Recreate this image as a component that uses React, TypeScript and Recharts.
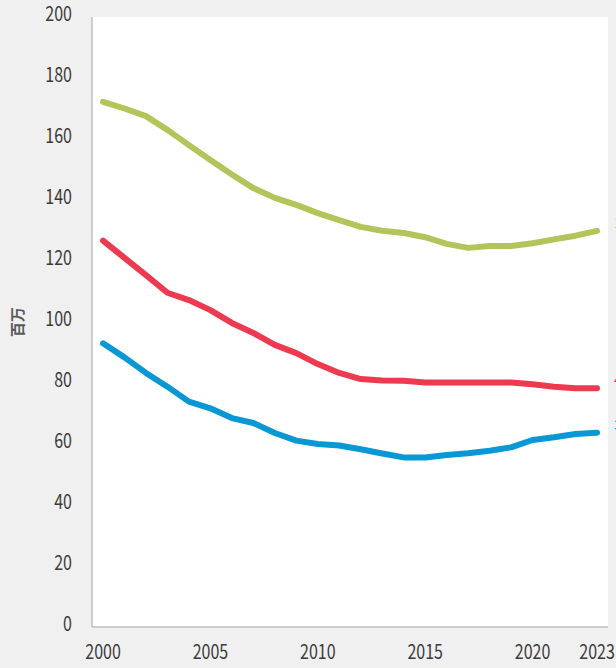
import { LineChart, Line, XAxis, YAxis, CartesianGrid, LabelList } from 'recharts';

const years = [
  2000, 2001, 2002, 2003, 2004, 2005, 2006, 2007, 2008, 2009, 2010, 2011,
  2012, 2013, 2014, 2015, 2016, 2017, 2018, 2019, 2020, 2021, 2022, 2023,
];

const greenSeries = [
  172.2, 170.0, 167.5, 163.0, 158.0, 153.1, 148.4, 143.9, 140.7, 138.4, 135.7, 133.4,
  131.2, 129.9, 129.2, 127.8, 125.6, 124.3, 124.9, 124.9, 125.8, 127.1, 128.3, 129.9,
];

const redSeries = [
  126.7, 121.0, 115.4, 109.6, 107.2, 103.9, 99.7, 96.4, 92.5, 89.8, 86.2, 83.3,
  81.3, 80.8, 80.7, 80.2, 80.2, 80.2, 80.2, 80.2, 79.6, 78.8, 78.3, 78.3,
];

const blueSeries = [
  93.0, 88.4, 83.3, 78.8, 73.9, 71.7, 68.5, 66.9, 63.6, 61.1, 60.0, 59.5,
  58.3, 56.9, 55.6, 55.6, 56.4, 57.0, 57.8, 58.9, 61.3, 62.2, 63.3, 63.7,
];

// labels at the right end of each line (mostly cut off by the frame edge)
const endLabels = ['1', '4', '3'];

const yTicks = [0, 20, 40, 60, 80, 100, 120, 140, 160, 180, 200];
const xTicks = [2000, 2005, 2010, 2015, 2020, 2023];

const colors = ['#b3c55a', '#ee3a50', '#0a98d5'];

const data = years.map((year, i) => ({
  year,
  green: greenSeries[i],
  red: redSeries[i],
  blue: blueSeries[i],
}));

const frameColor = '#bfbfbf';
const squeeze = 0.8;

// narrow-looking tick text: scale horizontally around the anchor point
const NarrowTick = (props: any) => {
  const { x, y, payload, textAnchor, orientation } = props;
  const dy = orientation === 'bottom' ? '0.71em' : '0.32em';
  return (
    <g transform={`translate(${x} ${y}) scale(${squeeze} 1)`}>
      <text
        x={0}
        y={orientation === 'bottom' ? 1 : -2}
        dy={dy}
        textAnchor={textAnchor}
        fontSize={20}
        fill="#3a3a3a"
        fontFamily="'Noto Sans CJK JP', 'Noto Sans', sans-serif"
      >
        {payload.value}
      </text>
    </g>
  );
};

const endLabel = (text: string, color: string, last: number) => (props: any) => {
  const { x, y, index } = props;
  if (index !== last) return null;
  return (
    <text x={x + 17} y={y} dy={-3} fill={color} fontSize={14} fontFamily="'Noto Sans CJK SC', sans-serif">
      {text}
    </text>
  );
};

const AxisTitle = (props: any) => {
  const { viewBox } = props;
  const cx = 16;
  const cy = viewBox.y + viewBox.height / 2;
  return (
    <text
      x={cx}
      y={cy}
      transform={`rotate(-90 ${cx} ${cy})`}
      textAnchor="middle"
      dominantBaseline="central"
      fontSize={15}
      fontWeight="bold"
      fill="#595959"
      fontFamily="'Noto Sans CJK SC', sans-serif"
    >
      百万
    </text>
  );
};

const App = () => {
  const last = years.length - 1;
  return (
    <div style={{ width: 616, height: 668, background: '#f0f0f0' }}>
      <style>{`body { margin: 0; background: #f0f0f0; }`}</style>
      <LineChart width={616} height={668} data={data} margin={{ top: 17, right: 8, bottom: 0, left: 0 }}>
        <CartesianGrid fill="#ffffff" horizontal={false} vertical={false} />
        <XAxis
          dataKey="year"
          type="number"
          domain={[2000, 2023]}
          ticks={xTicks}
          padding={{ left: 11, right: 11 }}
          height={41}
          tickLine={false}
          tickSize={0}
          tickMargin={17}
          axisLine={{ stroke: frameColor, strokeWidth: 1.5 }}
          tick={<NarrowTick />}
          interval={0}
        />
        <XAxis xAxisId="top" dataKey="year" type="number" domain={[2000, 2023]} orientation="top" height={0} tick={false} tickLine={false} axisLine={{ stroke: frameColor, strokeWidth: 1.5 }} />
        <YAxis
          domain={[0, 200]}
          ticks={yTicks}
          width={92}
          tickLine={false}
          tickSize={0}
          tickMargin={20}
          axisLine={{ stroke: frameColor, strokeWidth: 1.5 }}
          tick={<NarrowTick />}
          label={<AxisTitle />}
        />
        <YAxis yAxisId="right" orientation="right" domain={[0, 200]} width={0} tick={false} tickLine={false} axisLine={{ stroke: frameColor, strokeWidth: 1.5 }} />
        <Line dataKey="green" stroke={colors[0]} strokeWidth={6} dot={false} strokeLinejoin="round" strokeLinecap="round" isAnimationActive={false}>
          <LabelList dataKey="green" content={endLabel(endLabels[0], colors[0], last)} />
        </Line>
        <Line dataKey="red" stroke={colors[1]} strokeWidth={6} dot={false} strokeLinejoin="round" strokeLinecap="round" isAnimationActive={false}>
          <LabelList dataKey="red" content={endLabel(endLabels[1], colors[1], last)} />
        </Line>
        <Line dataKey="blue" stroke={colors[2]} strokeWidth={6} dot={false} strokeLinejoin="round" strokeLinecap="round" isAnimationActive={false}>
          <LabelList dataKey="blue" content={endLabel(endLabels[2], colors[2], last)} />
        </Line>
      </LineChart>
    </div>
  );
};

export default App;
